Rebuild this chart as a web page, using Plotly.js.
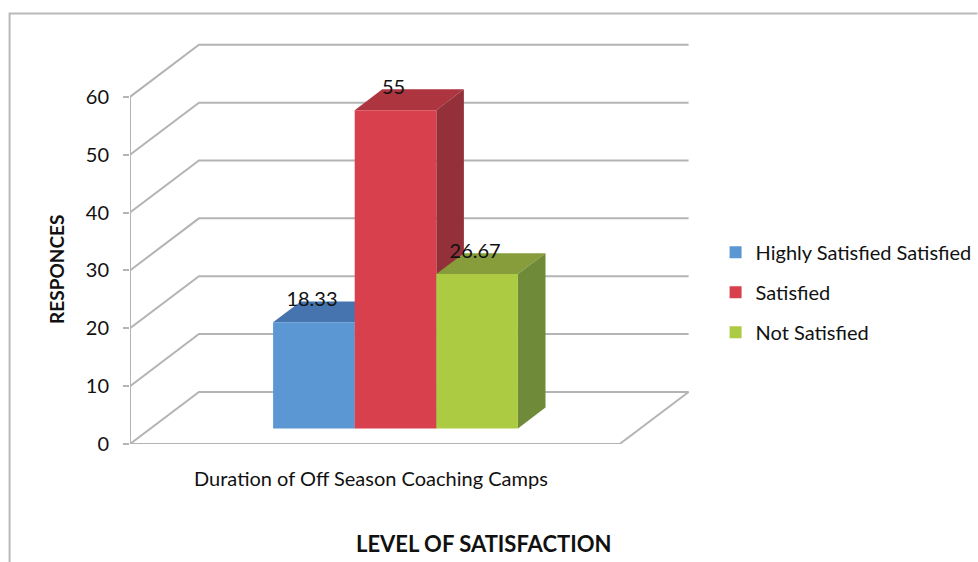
<!DOCTYPE html>
<html>
<head>
<meta charset="utf-8">
<script src="https://cdn.plot.ly/plotly-3.0.1.min.js"></script>
<style>html,body{margin:0;padding:0;background:#fff}#chart{width:978px;height:562px}</style>
</head>
<body>
<div id="chart"></div>
<script>
// ---- data ----
const categories = ['Duration of Off Season Coaching Camps'];
const seriesNames = ['Highly Satisfied Satisfied', 'Satisfied', 'Not Satisfied'];
const seriesValues = [18.33, 55, 26.67];
const valueLabels = ['18.33', '55', '26.67'];
const yTicks = [0, 10, 20, 30, 40, 50, 60];
const frontColors = ['#5b97d3', '#d9404e', '#adcb42'];
const topColors = ['#4674ae', '#ad3540', '#879d3b'];
const sideColors = ['#3f6a9f', '#93303a', '#6f8a38'];

// ---- oblique 3-D projection, in axis units ----
const depthX = 0.1408, depthY = 9;         // wall depth along x and along y
const barNear = 0.30, barFar = 0.70;       // bar depth inside the floor
const barWidth = 1 / 6, firstBar = 0.25;   // gap width 150 %
const xMax = 1.16, yMax = 70;
const W = 978, H = 562, L = 130, R = 279.6, T = 39.4, B = 118;
const plotW = W - L - R, plotH = H - T - B;
const gridColor = '#b4b4b4';
const textColor = '#111111';
const fontFamily = 'Lato, "Open Sans", sans-serif';

const px = (cx, d) => cx + d * depthX;
const py = (v, d) => v + d * depthY;
const path = pts => 'M' + pts.map(p => p[0] + ',' + p[1]).join('L');
const pPaperX = p => (p - L) / plotW;
const pPaperY = p => (H - B - p) / plotH;

const shapes = [];
// back wall and side wall gridlines
yTicks.forEach(v => {
  shapes.push({type: 'path', layer: 'below', xref: 'x', yref: 'y',
    path: path([[0, v], [px(0, 1), py(v, 1)], [px(1, 1), py(v, 1)]]),
    line: {color: gridColor, width: 2}});
});
// floor's right edge
shapes.push({type: 'path', layer: 'below', xref: 'x', yref: 'y',
  path: path([[px(1, 1), py(0, 1)], [1, 0]]), line: {color: gridColor, width: 2}});

const traces = [];
seriesValues.forEach((v, i) => {
  const left = firstBar + i * barWidth, right = left + barWidth;
  // top face
  shapes.push({type: 'path', layer: 'below', xref: 'x', yref: 'y', line: {width: 0},
    fillcolor: topColors[i],
    path: path([[px(left, barNear), py(v, barNear)], [px(left, barFar), py(v, barFar)],
                [px(right, barFar), py(v, barFar)], [px(right, barNear), py(v, barNear)]]) + 'Z'});
  // right side face
  shapes.push({type: 'path', layer: 'below', xref: 'x', yref: 'y', line: {width: 0},
    fillcolor: sideColors[i],
    path: path([[px(right, barNear), py(v, barNear)], [px(right, barFar), py(v, barFar)],
                [px(right, barFar), py(0, barFar)], [px(right, barNear), py(0, barNear)]]) + 'Z'});
  // front face: a real bar
  traces.push({type: 'bar', name: seriesNames[i], legendgroup: 'g' + i,
    x: [px(left + barWidth / 2, barNear)], y: [v], base: [py(0, barNear)],
    width: [barWidth], marker: {color: frontColors[i], line: {width: 0}},
    hoverinfo: 'name+y'});
});

// the front axis and floor lines
traces.push({type: 'scatter', mode: 'lines', x: [0, 0], y: [yTicks[yTicks.length - 1], 0],
  line: {color: gridColor, width: 2}, cliponaxis: false, showlegend: false, hoverinfo: 'skip'});
traces.push({type: 'scatter', mode: 'lines', x: [0, 1], y: [0, 0],
  line: {color: gridColor, width: 2}, cliponaxis: false, showlegend: false, hoverinfo: 'skip'});

// value labels
traces.push({type: 'scatter', mode: 'text', showlegend: false, hoverinfo: 'skip', cliponaxis: false,
  x: seriesValues.map((v, i) => px(firstBar + i * barWidth + barWidth / 2, barNear) - 0.004),
  y: seriesValues.map(v => py(v, barNear) + 3.7),
  text: valueLabels, textposition: 'middle center',
  textfont: {family: fontFamily, size: 20, color: textColor}});

const layout = {
  width: W, height: H, autosize: false,
  margin: {l: L, r: R, t: T, b: B, pad: 0, autoexpand: false},
  paper_bgcolor: '#ffffff', plot_bgcolor: 'rgba(0,0,0,0)',
  barmode: 'overlay', showlegend: true,
  font: {family: fontFamily, size: 20, color: textColor},
  xaxis: {range: [0, xMax], tickvals: [0.492], ticktext: categories, ticks: '',
    showgrid: false, zeroline: false, showline: false, ticklabelstandoff: 21,
    tickfont: {family: fontFamily, size: 20, color: textColor}, fixedrange: true},
  yaxis: {range: [0, yMax], tickvals: yTicks, ticks: 'outside', ticklen: 6, tickwidth: 2,
    tickcolor: gridColor, showgrid: false, zeroline: false, showline: false, ticklabelstandoff: 10,
    tickfont: {family: fontFamily, size: 20, color: textColor}, fixedrange: true},
  legend: {x: pPaperX(716), xanchor: 'left', y: pPaperY(233), yanchor: 'top',
    bgcolor: 'rgba(0,0,0,0)', borderwidth: 0, traceorder: 'grouped', tracegroupgap: 11,
    font: {family: fontFamily, size: 20, color: textColor}},
  annotations: [
    {text: '<b>LEVEL OF SATISFACTION</b>', xref: 'paper', yref: 'paper', showarrow: false,
      x: pPaperX(484), y: pPaperY(543), xanchor: 'center', yanchor: 'middle',
      font: {family: fontFamily, size: 22, color: textColor}},
    {text: '<b>RESPONCES</b>', xref: 'paper', yref: 'paper', showarrow: false, textangle: -90,
      x: pPaperX(57), y: pPaperY(270), xanchor: 'center', yanchor: 'middle',
      font: {family: fontFamily, size: 19, color: textColor}}
  ],
  shapes: shapes.concat([
    {type: 'path', xref: 'paper', yref: 'paper', layer: 'below',
      path: path([[pPaperX(9.5), pPaperY(H)], [pPaperX(9.5), pPaperY(14)], [pPaperX(W), pPaperY(14)]]),
      line: {color: '#b9b9b9', width: 2}}
  ])
};

Plotly.newPlot('chart', traces, layout, {displayModeBar: false, responsive: false});
</script>
</body>
</html>
